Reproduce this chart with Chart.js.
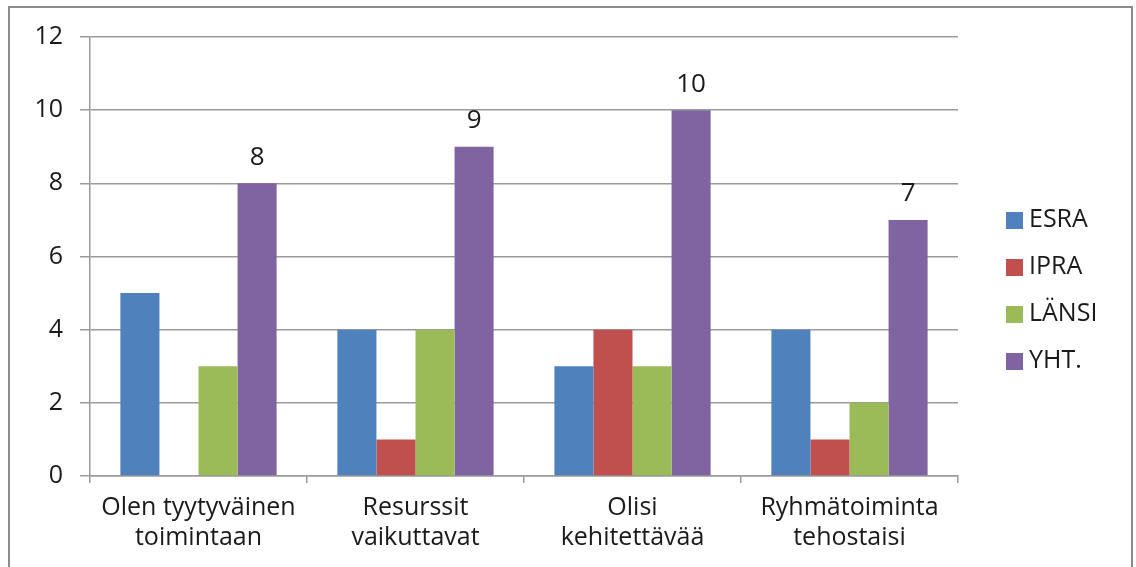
<!DOCTYPE html>
<html>
<head>
<meta charset="utf-8">
<script src="https://cdn.jsdelivr.net/npm/chart.js@4"></script>
<style>
  html, body { margin: 0; padding: 0; background: #fff; }
  #wrap { position: relative; width: 1136px; height: 567px; overflow: hidden; }
  #frame { position: absolute; left: 8px; top: 6px; width: 1125px; height: 600px; border: 2px solid #8a8a8a; box-sizing: border-box; }
  canvas { position: absolute; left: 0; top: 0; }
</style>
</head>
<body>
<div id="wrap">
  <div id="frame"></div>
  <canvas id="chart" width="1136" height="567"></canvas>
</div>
<script>
const categories = [
  ["Olen tyytyväinen", "toimintaan"],
  ["Resurssit", "vaikuttavat"],
  ["Olisi", "kehitettävää"],
  ["Ryhmätoiminta", "tehostaisi"]
];
const seriesNames = ["ESRA", "IPRA", "LÄNSI", "YHT."];
const esra = [5, 4, 3, 4];
const ipra = [0, 1, 4, 1];
const lansi = [3, 4, 3, 2];
const yht = [8, 9, 10, 7];
const colors = ["#4f81bd", "#c0504d", "#9bbb59", "#8064a2"];

const FONT = "'Open Sans', sans-serif";

// value labels above the YHT bars
const valueLabels = {
  id: "valueLabels",
  afterDatasetsDraw(chart) {
    const ctx = chart.ctx;
    const meta = chart.getDatasetMeta(3);
    ctx.save();
    ctx.font = "26px " + FONT;
    ctx.fillStyle = "#1a1a1a";
    ctx.textAlign = "center";
    ctx.textBaseline = "middle";
    meta.data.forEach((bar, i) => {
      ctx.fillText(String(chart.data.datasets[3].data[i]), bar.x, bar.y - 26);
    });
    ctx.restore();
  }
};

// legend on the right, one entry per row
const sideLegend = {
  id: "sideLegend",
  afterDraw(chart) {
    const ctx = chart.ctx;
    ctx.save();
    ctx.font = "25px " + FONT;
    ctx.textBaseline = "middle";
    ctx.textAlign = "left";
    chart.data.datasets.forEach((ds, i) => {
      const y = 220 + i * 47;
      ctx.fillStyle = ds.backgroundColor;
      ctx.fillRect(1006, y - 8, 17, 17);
      ctx.fillStyle = "#1a1a1a";
      ctx.fillText(ds.label, 1029, y);
    });
    ctx.restore();
  }
};

const data = {
  labels: categories,
  datasets: [esra, ipra, lansi, yht].map((vals, i) => ({
    label: seriesNames[i],
    data: vals,
    backgroundColor: colors[i],
    borderWidth: 0,
    categoryPercentage: 0.72,
    barPercentage: 1.0
  }))
};

new Chart(document.getElementById("chart"), {
  type: "bar",
  data: data,
  options: {
    responsive: false,
    animation: false,
    devicePixelRatio: 1,
    layout: { padding: { left: 0, top: 37, right: 178, bottom: 0 } },
    plugins: {
      legend: { display: false },
      tooltip: { enabled: false }
    },
    scales: {
      x: {
        grid: {
          offset: true,
          drawOnChartArea: false,
          drawTicks: true,
          tickLength: 7,
          color: "#9a9a9a",
          lineWidth: 1.5
        },
        border: { color: "#9a9a9a", width: 1.5 },
        ticks: {
          font: { family: FONT, size: 25, lineHeight: 1.2 },
          color: "#1a1a1a",
          padding: 10,
          maxRotation: 0,
          autoSkip: false
        },
        afterFit(scale) { scale.height = 91; }
      },
      y: {
        min: 0,
        max: 12,
        ticks: {
          stepSize: 2,
          font: { family: FONT, size: 25 },
          color: "#1a1a1a",
          padding: 17
        },
        grid: {
          color: "#9a9a9a",
          lineWidth: 1.5,
          tickLength: 10
        },
        border: { color: "#9a9a9a", width: 1.5 },
        afterFit(scale) { scale.width = 90; }
      }
    }
  },
  plugins: [valueLabels, sideLegend]
});
</script>
</body>
</html>
